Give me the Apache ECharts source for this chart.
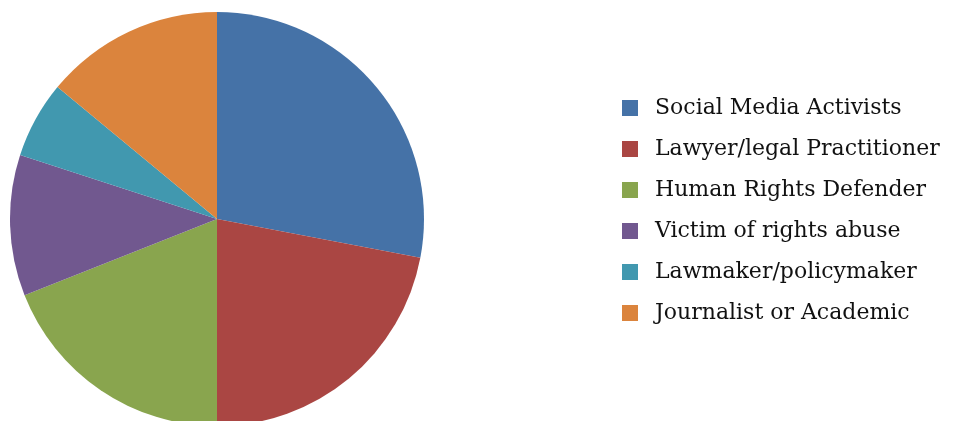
<!DOCTYPE html>
<html>
<head>
<meta charset="utf-8">
<script src="https://cdn.jsdelivr.net/npm/echarts@6/dist/echarts.min.js"></script>
<style>
  html, body { margin: 0; padding: 0; background: #fff; }
  #chart { width: 953px; height: 421px; }
</style>
</head>
<body>
<div id="chart"></div>
<script>
// Respondent categories and their shares (percent)
const categories = [
  'Social Media Activists',
  'Lawyer/legal Practitioner',
  'Human Rights Defender',
  'Victim of rights abuse',
  'Lawmaker/policymaker',
  'Journalist or Academic'
];
const shares = [28, 22, 19, 11, 6, 14];
const palette = ['#4572A7', '#AA4643', '#89A54E', '#71588F', '#4198AF', '#DB843D'];

const chart = echarts.init(document.getElementById('chart'), null, { renderer: 'canvas' });

chart.setOption({
  animation: false,
  color: palette,
  legend: {
    orient: 'vertical',
    left: 622,
    top: 96,
    padding: 0,
    itemWidth: 16,
    itemHeight: 16,
    itemGap: 17,
    icon: 'rect',
    selectedMode: false,
    textStyle: {
      fontFamily: '"DejaVu Serif", serif',
      fontSize: 22,
      lineHeight: 24,
      color: '#111',
      padding: [0, 0, 0, 12]
    },
    data: categories
  },
  series: [{
    type: 'pie',
    center: [217, 219],
    radius: 207,
    startAngle: 90,
    clockwise: true,
    label: { show: false },
    labelLine: { show: false },
    emphasis: { disabled: true },
    itemStyle: { borderWidth: 0 },
    data: categories.map((name, i) => ({ name, value: shares[i] }))
  }]
});
</script>
</body>
</html>
